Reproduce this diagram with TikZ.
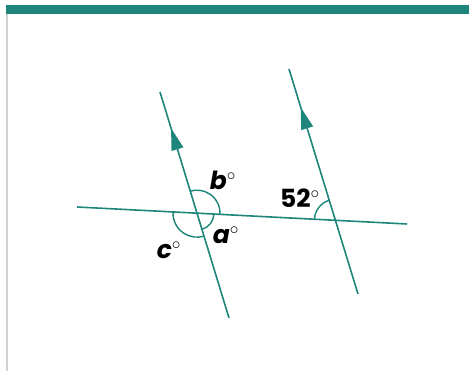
\documentclass[tikz,border=0pt]{standalone}
\usepackage{fontspec}
\setmainfont{Poppins}
\usetikzlibrary{arrows.meta,decorations.markings}
\definecolor{lineteal}{RGB}{29,133,122}
\newcommand{\degmark}{\ensuremath{^{\circ}}}
\tikzset{
  parline/.style={lineteal, line width=1.6pt, postaction={decorate}},
  anglearc/.style={lineteal, line width=1.4pt},
  anglelabel/.style={font=\fontsize{25}{30}\selectfont\bfseries}
}
\begin{document}
\begin{tikzpicture}[x=1pt,y=1pt]
\useasboundingbox (0,0) rectangle (469,371);
% frame
\fill[lineteal] (6,357) rectangle (469,366);
\draw[black!18, line width=1.5pt] (6.8,0) -- (6.8,357);
% lines
\coordinate (L1) at (160,279);
\coordinate (L2) at (229,53);
\coordinate (R1) at (289,302);
\coordinate (R2) at (358,77);
\coordinate (T1) at (77,164);
\coordinate (T2) at (407,147);
\coordinate (X1) at (intersection of L1--L2 and T1--T2);
\coordinate (X2) at (intersection of R1--R2 and T1--T2);
\draw[lineteal, line width=1.6pt] (T1) -- (T2);
\draw[parline, decoration={markings, mark=at position 0.84 with {\arrow{Triangle[length=22pt,width=12pt]}}}] (L2) -- (L1);
\draw[parline, decoration={markings, mark=at position 0.83 with {\arrow{Triangle[length=22pt,width=12pt]}}}] (R2) -- (R1);
% angles
\draw[anglearc] (X1) ++(-3:23) arc (-3:107:23);
\draw[anglearc] (X1) ++(287:17) arc (287:357:17);
\draw[anglearc] (X1) ++(177:24) arc (177:287:24);
\draw[anglearc] (X2) ++(107:21) arc (107:177:21);
\node[anglelabel] (b) at (223,191) {\itshape b\degmark};
\node[anglelabel] (a) at (226,136) {\itshape a\degmark};
\node[anglelabel] (c) at (169,121) {\itshape c\degmark};
\node[anglelabel] (given) at (300,173) {52\degmark};
\end{tikzpicture}
\end{document}
